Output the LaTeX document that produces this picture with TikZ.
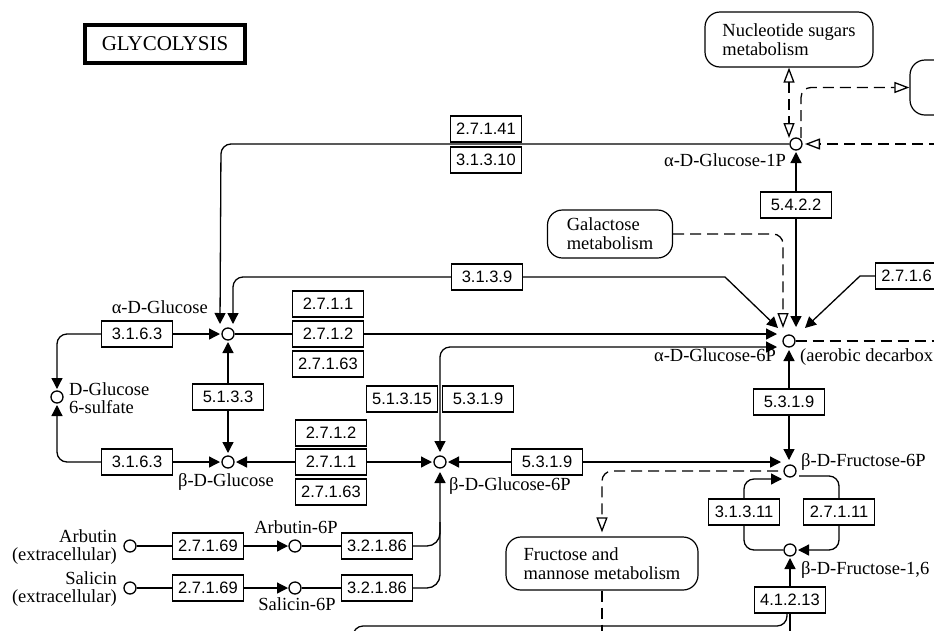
\documentclass[tikz,border=0pt]{standalone}
\usepackage{fontspec}
\setmainfont{Liberation Serif}
\newfontfamily\ecfont{Liberation Sans}
\usetikzlibrary{arrows.meta,calc}

\begin{document}
\begin{tikzpicture}[x=1pt, y=-1pt, line join=miter,
    cpd/.style={circle, draw, fill=white, line width=1.3pt, minimum size=12pt, inner sep=0pt},
    ec/.style={draw, fill=white, line width=1.2pt, minimum width=71pt, minimum height=26pt, inner sep=0pt, font=\ecfont\fontsize{16.5}{16}\selectfont},
    lbl/.style={inner sep=0pt, font=\fontsize{18.5}{18}\selectfont},
    pathway/.style={draw, fill=white, rounded corners=15pt, line width=1.2pt, inner sep=0pt, align=left, font=\fontsize{18.5}{19}\selectfont},
    rxn/.style={line width=1.3pt, rounded corners=10pt},
    link/.style={line width=1.3pt, rounded corners=10pt, dash pattern=on 11pt off 6pt},
    tip/.style={-{Triangle[length=11pt, width=11pt]}},
    tips/.style={{Triangle[length=11pt, width=11pt]}-{Triangle[length=11pt, width=11pt]}},
    otip/.style={-{Triangle[open, length=15pt, width=11pt, fill=white]}},
    otips/.style={{Triangle[open, length=15pt, width=11pt, fill=white]}-{Triangle[open, length=15pt, width=11pt, fill=white]}}]

  \useasboundingbox (0,0) rectangle (934,630);
  \clip (0,0) rectangle (934,630);

  % Title
  \node[draw, line width=4pt, minimum width=160pt, minimum height=38pt, font=\fontsize{21}{21}\selectfont] (title) at (165,44) {GLYCOLYSIS};

  % Pathway maps
  \node[pathway, minimum width=168pt, minimum height=55pt] (nuc) at (789,39.5) {Nucleotide sugars\\metabolism};
  \node[pathway, minimum width=125pt, minimum height=48pt] (gal) at (610,234) {Galactose\\metabolism};
  \node[pathway, minimum width=192pt, minimum height=53pt] (fru) at (602,563.5) {Fructose and\\mannose metabolism};
  \node[pathway, minimum width=90pt, minimum height=55pt] (next) at (955,87.5) {};

  % Compounds
  \node[cpd] (g1p) at (796,144) {};
  \node[cpd] (aglc) at (228,334) {};
  \node[cpd] (gsul) at (57,397) {};
  \node[cpd] (bglc) at (228,462) {};
  \node[cpd] (bg6p) at (440,462) {};
  \node[cpd] (ag6p) at (789,341) {};
  \node[cpd] (f6p) at (790,471) {};
  \node[cpd] (f16p) at (790,550) {};
  \node[cpd] (arb) at (130,546) {};
  \node[cpd] (arb6p) at (295,546) {};
  \node[cpd] (sal) at (130,588) {};
  \node[cpd] (sal6p) at (295,588) {};

  % Ends outside the frame
  \coordinate (eg1p) at (940,144);
  \coordinate (eg6p) at (940,341);
  \coordinate (ebot1) at (790,640);
  \coordinate (ebot2) at (353,640);
  \coordinate (ebot3) at (602,640);

  % Enzymes
  \node[ec] (e27141) at (486,129) {2.7.1.41};
  \node[ec] (e31310) at (486,160) {3.1.3.10};
  \node[ec] (e5422) at (796,205) {5.4.2.2};
  \node[ec] (e3139) at (487,277) {3.1.3.9};
  \node[ec, anchor=west] (e2716) at (875,276) {2.7.1.6\hphantom{3}};
  \node[ec] (e3163a) at (137,334) {3.1.6.3};
  \node[ec] (e3163b) at (137,462) {3.1.6.3};
  \node[ec] (e5133) at (228,397) {5.1.3.3};
  \node[ec] (e2711a) at (328,304) {2.7.1.1};
  \node[ec] (e2712a) at (328,334) {2.7.1.2};
  \node[ec] (e27163a) at (328,364) {2.7.1.63};
  \node[ec] (e2712b) at (331,433) {2.7.1.2};
  \node[ec] (e2711b) at (331,462) {2.7.1.1};
  \node[ec] (e27163b) at (331,492) {2.7.1.63};
  \node[ec] (e51315) at (402,399) {5.1.3.15};
  \node[ec] (e5319a) at (478,399) {5.3.1.9};
  \node[ec] (e5319b) at (547,462) {5.3.1.9};
  \node[ec] (e5319c) at (789,402) {5.3.1.9};
  \node[ec] (e31311) at (744,512) {3.1.3.11};
  \node[ec] (e27111) at (839,512) {2.7.1.11};
  \node[ec] (e41213) at (790,600) {4.1.2.13};
  \node[ec] (e27169a) at (208,546) {2.7.1.69};
  \node[ec] (e32186a) at (377,546) {3.2.1.86};
  \node[ec] (e27169b) at (208,588) {2.7.1.69};
  \node[ec] (e32186b) at (377,588) {3.2.1.86};

  % Labels
  \node[lbl, anchor=base east] (lg1p) at (786,166) {α-D-Glucose-1P};
  \node[lbl, anchor=base east] (laglc) at (208,313) {α-D-Glucose};
  \node[lbl, anchor=west, align=left] (lgsul) at (69,398) {D-Glucose\\6-sulfate};
  \node[lbl, anchor=base] (lbglc) at (226,486) {β-D-Glucose};
  \node[lbl, anchor=base west] (lbg6p) at (449,490) {β-D-Glucose-6P};
  \node[lbl, anchor=base east] (lag6p) at (776,361) {α-D-Glucose-6P};
  \node[lbl, anchor=base west] (laer) at (800,361) {(aerobic decarbox};
  \node[lbl, anchor=base west] (lf6p) at (801,466) {β-D-Fructose-6P};
  \node[lbl, anchor=base west] (lf16p) at (801,574) {β-D-Fructose-1,6};
  \node[lbl, anchor=east, align=right] (larb) at (117,547) {Arbutin\\(extracellular)};
  \node[lbl, anchor=east, align=right] (lsal) at (117,589) {Salicin\\(extracellular)};
  \node[lbl, anchor=base] (larb6p) at (296,533) {Arbutin-6P};
  \node[lbl, anchor=base] (lsal6p) at (297,610) {Salicin-6P};

  % Glucose-1P and Glucose-6P
  \draw[rxn, tip] (g1p.west) -- (221,144) -- ($(aglc)+(-8,-10)$);
  \draw[rxn, tip] (e3139.west) -- (233,277) -- ($(aglc)+(5,-10)$);
  \draw[rxn, sharp corners, tip] (e3139.east) -- (725,277) -- ($(ag6p)+(-11,-13)$);
  \draw[rxn] (aglc) -- (e2712a);
  \draw[rxn, tip] (e2712a) -- ($(ag6p)+(-12,-7)$);
  \draw[rxn, tips] ($(bg6p)+(0,-10)$) -- (440,347) -- ($(ag6p)+(-12,6)$);
  \draw[rxn, tip] (e5422) -- ($(g1p)+(0,8)$);
  \draw[rxn, tip] (e5422) -- ($(ag6p)+(7,-14)$);
  \draw[rxn, sharp corners, tip] (e2716.west) -- (860,276) -- ($(ag6p)+(16,-13)$);
  \draw[link, otip] (gal.east) -- (783,234) -- ($(ag6p)+(-6,-13)$);
  \draw[link] (ag6p.east) -- (eg6p);
  \draw[link, otips] (nuc.south) -- ($(g1p)+(-7,-6)$);
  \draw[link, otip] ($(g1p)+(5,-6)$) |- (next.west);
  \draw[link, otip] (eg1p) -- ($(g1p)+(9,0)$);

  % Fructose-6P and Fructose-1,6P
  \draw[rxn, tip] (e5319c) -- ($(ag6p)+(0,9)$);
  \draw[rxn, tip] (e5319c) -- ($(f6p)+(-1,-11)$);
  \draw[rxn, tip] (e5319b) -- ($(bg6p)+(8,0)$);
  \draw[rxn, tip] (e5319b) -- ($(f6p)+(-9,-9)$);
  \draw[link, otip] ($(f6p)+(-12,0)$) -| ([yshift=4pt]fru.north);
  \draw[link] (fru.south) -- (ebot3);
  \draw[rxn] ($(f6p)+(9,5)$) -| (e27111.north);
  \draw[rxn, tip] (e27111.south) |- ($(f16p)+(8,0)$);
  \draw[rxn] (f16p.west) -| (e31311.south);
  \draw[rxn, tip] (e31311.north) |- ($(f6p)+(-8,8)$);
  \draw[rxn, tip] (e41213) -- ($(f16p)+(0,8)$);
  \draw[rxn] (e41213) -- (ebot1);
  \draw[rxn] ($(e41213.south)+(-3,0)$) |- (353,626) -- (ebot2);

  % Glucose and sulfate
  \draw[rxn, tip] (e3163a) -- ($(aglc)+(-8,0)$);
  \draw[rxn, tip] (e3163a.west) -| ($(gsul)+(0,-8)$);
  \draw[rxn, tip] (e3163b) -- ($(bglc)+(-8,0)$);
  \draw[rxn, tip] (e3163b.west) -| ($(gsul)+(0,8)$);
  \draw[rxn, tip] (e5133) -- ($(aglc)+(0,8)$);
  \draw[rxn, tip] (e5133) -- ($(bglc)+(0,-9)$);
  \draw[rxn, tip] (e2711b) -- ($(bglc)+(8,0)$);
  \draw[rxn, tip] (e2711b) -- ($(bg6p)+(-8,0)$);

  % Arbutin and Salicin
  \draw[rxn] (arb) -- (e27169a);
  \draw[rxn, tip] (e27169a) -- ($(arb6p)+(-7,0)$);
  \draw[rxn] (arb6p) -- (e32186a);
  \draw[rxn, rounded corners=13pt] (e32186a.east) -| ($(bg6p)+(0,60)$);
  \draw[rxn] (sal) -- (e27169b);
  \draw[rxn, tip] (e27169b) -- ($(sal6p)+(-7,0)$);
  \draw[rxn] (sal6p) -- (e32186b);
  \draw[rxn, rounded corners=13pt, tip] (e32186b.east) -| ($(bg6p)+(0,10)$);
\end{tikzpicture}
\end{document}
